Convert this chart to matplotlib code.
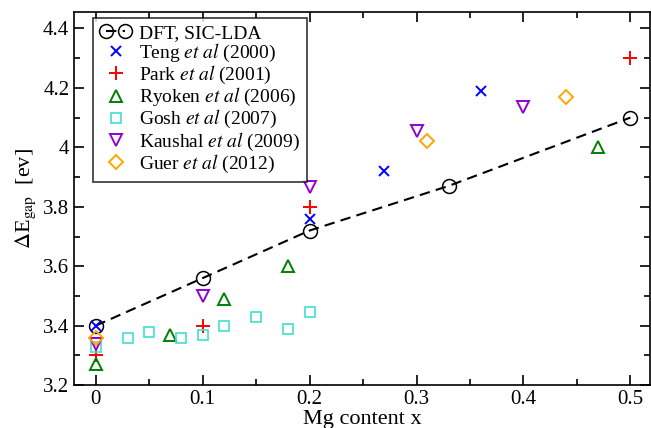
import numpy as np
import matplotlib
matplotlib.use("Agg")
import matplotlib.pyplot as plt
from matplotlib.ticker import MultipleLocator, FormatStrFormatter
from matplotlib.legend_handler import HandlerLine2D

plt.rcParams['font.family'] = ['Liberation Serif', 'DejaVu Serif']
plt.rcParams['mathtext.fontset'] = 'stix'

# ----- data -----
dft_x = [0.0, 0.1, 0.2, 0.33, 0.5]
dft_y = [3.40, 3.56, 3.72, 3.87, 4.10]

teng_x = [0.0, 0.2, 0.27, 0.36]
teng_y = [3.40, 3.76, 3.92, 4.19]

park_x = [0.0, 0.1, 0.2, 0.5]
park_y = [3.30, 3.40, 3.80, 4.30]

ryoken_x = [0.0, 0.07, 0.12, 0.18, 0.47]
ryoken_y = [3.27, 3.37, 3.49, 3.60, 4.00]

gosh_x = [0.0, 0.03, 0.05, 0.08, 0.1, 0.12, 0.15, 0.18, 0.2]
gosh_y = [3.33, 3.36, 3.38, 3.36, 3.37, 3.40, 3.43, 3.39, 3.445]

kaushal_x = [0.0, 0.1, 0.2, 0.3, 0.4]
kaushal_y = [3.34, 3.50, 3.865, 4.055, 4.135]

guer_x = [0.0, 0.31, 0.44]
guer_y = [3.36, 4.02, 4.17]

fig = plt.figure(figsize=(6.51, 4.28), dpi=100)
ax = fig.add_axes([0.114, 0.100, 0.884, 0.872])

dft, = ax.plot(dft_x, dft_y, 'k--', marker='o', mfc='none', mec='k', ms=10, mew=1.1,
               lw=1.5, dashes=(5, 3), label='DFT, SIC-LDA')
others = []
others += ax.plot(teng_x, teng_y, ls='none', marker='x', color='blue', ms=7.5, mew=1.4,
                  label=r'Teng $\it{et\ al}$ (2000)')
others += ax.plot(park_x, park_y, ls='none', marker='+', color='red', ms=10, mew=1.4,
                  label=r'Park $\it{et\ al}$ (2001)')
others += ax.plot(ryoken_x, ryoken_y, ls='none', marker='^', mfc='none', mec='green', ms=8.5, mew=1.4,
                  label=r'Ryoken $\it{et\ al}$ (2006)')
others += ax.plot(gosh_x, gosh_y, ls='none', marker='s', mfc='none', mec='#40E0D0', ms=7, mew=1.2,
                  label=r'Gosh $\it{et\ al}$ (2007)')
others += ax.plot(kaushal_x, kaushal_y, ls='none', marker='v', mfc='none', mec='#9400D3', ms=8.5, mew=1.4,
                  label=r'Kaushal $\it{et\ al}$ (2009)')
others += ax.plot(guer_x, guer_y, ls='none', marker='D', mfc='none', mec='orange', ms=7, mew=1.4,
                  label=r'Guer $\it{et\ al}$ (2012)')

ax.set_xlim(-0.02, 0.518)
ax.set_ylim(3.2, 4.455)
ax.xaxis.set_major_locator(MultipleLocator(0.1))
ax.xaxis.set_minor_locator(MultipleLocator(0.05))
ax.yaxis.set_major_locator(MultipleLocator(0.2))
ax.yaxis.set_minor_locator(MultipleLocator(0.1))
ax.xaxis.set_major_formatter(FormatStrFormatter('%g'))
ax.yaxis.set_major_formatter(FormatStrFormatter('%g'))
ax.tick_params(which='both', direction='in', top=True, right=True, labelsize=15, width=1.2)
ax.tick_params(which='major', length=7)
ax.tick_params(which='minor', length=4)
for s in ax.spines.values():
    s.set_linewidth(1.2)

ax.set_xlabel('Mg content x', fontsize=16, labelpad=1)
ax.set_ylabel(r'$\Delta$E$_{\rm gap}$  [ev]', fontsize=16)

hmap = {h: HandlerLine2D(numpoints=1) for h in others}
hmap[dft] = HandlerLine2D(numpoints=2)
leg = ax.legend(handles=[dft] + others, loc='upper left', bbox_to_anchor=(0.033, 0.985),
                handler_map=hmap, fontsize=14, frameon=True, fancybox=False, edgecolor='k',
                handlelength=1.6, handletextpad=0.4, borderpad=0.35, labelspacing=0.0,
                borderaxespad=0)
leg.get_frame().set_linewidth(1.2)

fig.savefig('out.png', dpi=100)
